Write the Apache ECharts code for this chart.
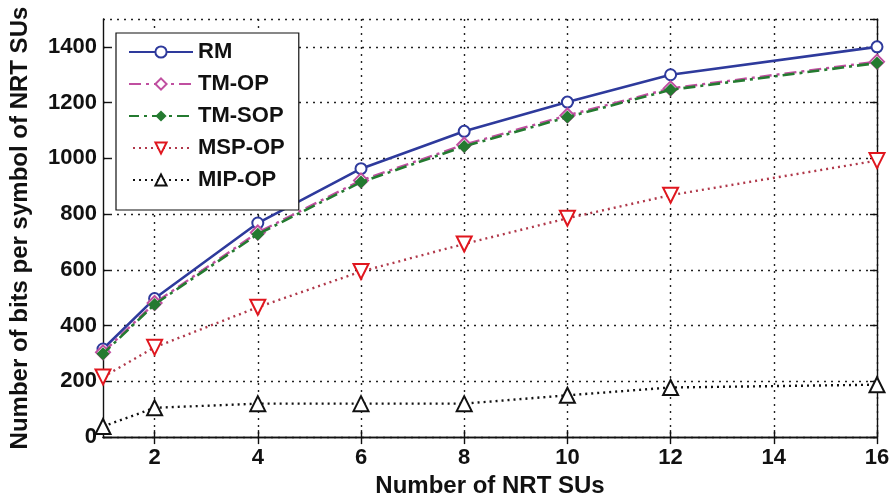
<!DOCTYPE html>
<html>
<head>
<meta charset="utf-8">
<script src="https://cdn.jsdelivr.net/npm/echarts@6/dist/echarts.min.js"></script>
<style>html,body{margin:0;padding:0;background:#fff;}#c{width:895px;height:503px;}</style>
</head>
<body>
<div id="c"></div>
<script>
const xValues = [1, 2, 4, 6, 8, 10, 12, 16];
const xTicks = [2, 4, 6, 8, 10, 12, 14, 16];
const yTicks = [0, 200, 400, 600, 800, 1000, 1200, 1400];
const seriesNames = ['RM', 'TM-OP', 'TM-SOP', 'MSP-OP', 'MIP-OP'];
const rm = [316, 497, 768, 963, 1097, 1202, 1300, 1400];
const tmOp = [304, 481, 734, 921, 1049, 1154, 1251, 1347];
const tmSop = [299, 476, 728, 915, 1043, 1148, 1246, 1342];
const mspOp = [216, 322, 466, 594, 693, 785, 868, 992];
const mipOp = [38, 105, 120, 120, 120, 150, 178, 188];

const pair = arr => xValues.map((x, i) => [x, arr[i]]);
const font = 'Liberation Sans, Arial, sans-serif';

const chart = echarts.init(document.getElementById('c'), null, {renderer: 'canvas'});
const gridLine = {show: true, lineStyle: {color: '#222', type: [2, 5], width: 1.4}};
const yFmt = v => (yTicks.indexOf(v) >= 0 ? String(v) : '');
chart.setOption({
  animation: false,
  backgroundColor: '#fff',
  grid: {left: 101, right: 18, top: 19, bottom: 61},
  legend: {
    data: seriesNames,
    orient: 'vertical',
    left: 116, top: 33,
    padding: [8, 14, 19, 12],
    itemWidth: 64, itemHeight: 14, itemGap: 10,
    backgroundColor: '#fff',
    borderColor: '#111', borderWidth: 1.2,
    textStyle: {fontFamily: font, fontSize: 22, fontWeight: 'bold', color: '#111', lineHeight: 22}
  },
  xAxis: [{
    type: 'value', min: 1, max: 16, position: 'bottom',
    name: 'Number of NRT SUs', nameLocation: 'middle', nameGap: 33,
    nameTextStyle: {fontFamily: font, fontSize: 24, fontWeight: 'bold', color: '#111'},
    axisLine: {show: true, lineStyle: {color: '#111', width: 1.4}},
    axisTick: {show: true, inside: true, length: 7, customValues: xTicks, lineStyle: {color: '#111', width: 1.4}},
    axisLabel: {customValues: xTicks, fontFamily: font, fontSize: 22, fontWeight: 'bold', color: '#111', margin: 10},
    splitLine: gridLine
  }, {
    type: 'value', min: 1, max: 16, position: 'top',
    axisLine: {show: true, lineStyle: {color: '#111', width: 1.4}},
    axisTick: {show: true, inside: true, length: 7, customValues: xTicks, lineStyle: {color: '#111', width: 1.4}},
    axisLabel: {show: false},
    splitLine: {show: false}
  }],
  yAxis: [{
    type: 'value', min: 0, max: 1500, interval: 200, position: 'left',
    name: 'Number of bits per symbol of NRT SUs', nameLocation: 'middle', nameGap: 71,
    nameTextStyle: {fontFamily: font, fontSize: 24, fontWeight: 'bold', color: '#111'},
    axisLine: {show: true, lineStyle: {color: '#111', width: 1.4}},
    axisTick: {show: true, inside: true, length: 7, lineStyle: {color: '#111', width: 1.4}},
    axisLabel: {showMaxLabel: false, formatter: yFmt, fontFamily: font, fontSize: 22, fontWeight: 'bold', color: '#111', margin: 6},
    splitLine: gridLine
  }, {
    type: 'value', min: 0, max: 1500, interval: 200, position: 'right',
    axisLine: {show: true, lineStyle: {color: '#111', width: 1.4}},
    axisTick: {show: true, inside: true, length: 7, lineStyle: {color: '#111', width: 1.4}},
    axisLabel: {show: false},
    splitLine: {show: false}
  }],
  series: [
    {name: 'RM', type: 'line', data: pair(rm), symbol: 'emptyCircle', symbolSize: 11,
     lineStyle: {color: '#2e3a9c', width: 2.6}, itemStyle: {color: '#2e3a9c', borderWidth: 2}, z: 3},
    {name: 'TM-OP', type: 'line', data: pair(tmOp), symbol: 'emptyDiamond', symbolSize: 14,
     lineStyle: {color: '#c04fa0', width: 2.4, type: [12, 5, 3, 5]}, itemStyle: {color: '#c04fa0', borderWidth: 2}, z: 4},
    {name: 'TM-SOP', type: 'line', data: pair(tmSop), symbol: 'diamond', symbolSize: 13,
     lineStyle: {color: '#247a30', width: 2.6, type: [12, 5, 3, 5], dashOffset: 2}, itemStyle: {color: '#247a30'}, z: 5},
    {name: 'MSP-OP', type: 'line', data: pair(mspOp), symbol: 'emptyTriangle', symbolRotate: 180, symbolSize: 15,
     lineStyle: {color: '#b0384a', width: 2.4, type: [2, 4]}, itemStyle: {color: '#e0161e', borderColor: '#e0161e', borderWidth: 2.5}, z: 6},
    {name: 'MIP-OP', type: 'line', data: pair(mipOp), symbol: 'emptyTriangle', symbolSize: 15,
     lineStyle: {color: '#111', width: 2.4, type: [2, 4]}, itemStyle: {color: '#111', borderWidth: 2.2}, z: 7}
  ]
});
</script>
</body>
</html>
